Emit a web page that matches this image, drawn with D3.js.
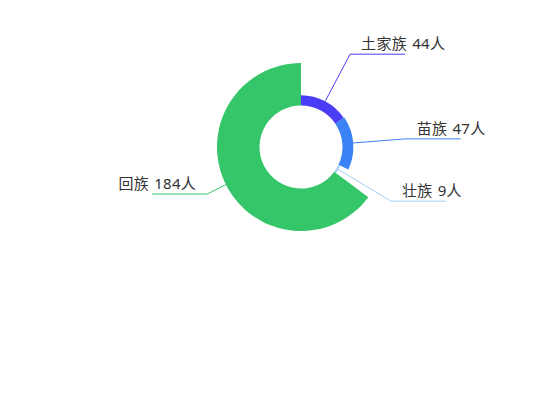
<!DOCTYPE html>
<html lang="zh">
<head>
<meta charset="UTF-8">
<title>民族人数</title>
<script src="https://cdn.jsdelivr.net/npm/d3@7/dist/d3.min.js"></script>
<style>
  body { margin: 0; background: #fff; }
  text { font-family: "Noto Sans", "Noto Sans CJK SC", sans-serif; }
</style>
</head>
<body>
<svg width="550" height="420" id="mainsvg"></svg>
<script>
  // 数据
  const names = ['土家族', '苗族', '壮族', '回族'];
  const values = [44, 47, 9, 184];
  const colors = ['#4b3cf6', '#3b82f6', '#a6cff5', '#36c66a'];

  const data = names.map((n, i) => ({ name: n, value: values[i], color: colors[i] }));

  const svg = d3.select('#mainsvg');
  const cx = 301, cy = 147;
  const innerR = 41.5, outerR = 84;
  const elbowR = 105, len2 = 55;

  const g = svg.append('g').attr('transform', `translate(${cx},${cy})`);

  // 南丁格尔玫瑰图：半径按数值
  const rScale = d3.scaleLinear()
    .domain([0, d3.max(values)])
    .range([innerR, outerR]);

  const pie = d3.pie().sort(null).value(d => d.value);
  const arcs = pie(data);

  const arc = d3.arc()
    .innerRadius(innerR)
    .outerRadius(d => rScale(d.data.value));

  g.selectAll('path.slice').data(arcs).enter()
    .append('path')
    .attr('class', 'slice')
    .attr('d', arc)
    .attr('fill', d => d.data.color);

  // 标签引导线
  const polar = (r, a) => [r * Math.sin(a), -r * Math.cos(a)];

  arcs.forEach(d => {
    const mid = (d.startAngle + d.endAngle) / 2;
    const p0 = polar(rScale(d.data.value), mid);
    const p1 = polar(elbowR, mid);
    const right = Math.sin(mid) >= 0;
    const p2 = [p1[0] + (right ? len2 : -len2), p1[1]];

    g.append('polyline')
      .attr('points', [p0, p1, p2].map(p => p.join(',')).join(' '))
      .attr('fill', 'none')
      .attr('stroke', d.data.color)
      .attr('stroke-width', 1);

    g.append('text')
      .attr('x', p1[0] + (right ? 11 : -11))
      .attr('y', p1[1] - 5)
      .attr('text-anchor', right ? 'start' : 'end')
      .attr('font-size', 15)
      .attr('letter-spacing', 0.3)
      .attr('word-spacing', 1)
      .attr('fill', '#333')
      .text(`${d.data.name} ${d.data.value}人`);
  });
</script>
</body>
</html>
